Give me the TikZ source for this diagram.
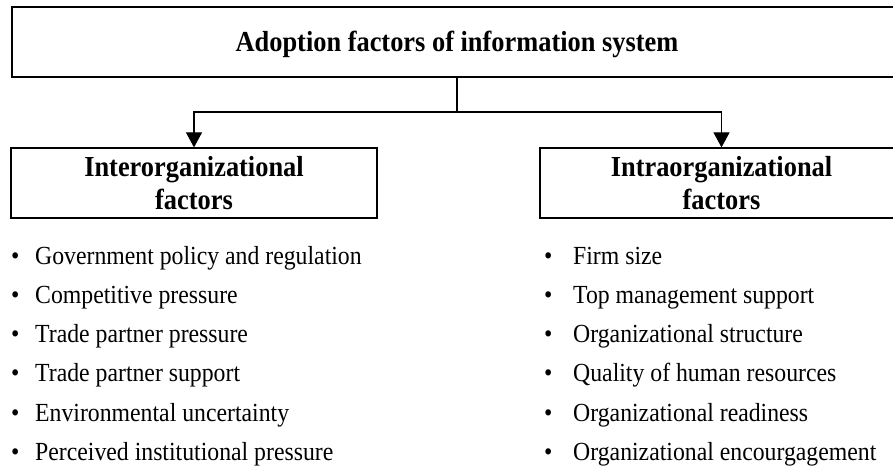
\documentclass[tikz,border=0pt]{standalone}
\usepackage{fontspec}
\setmainfont{Liberation Serif}[FakeStretch=0.91]
\usetikzlibrary{arrows.meta}
\tikzset{
  box/.style={draw=black, line width=1.2pt, rectangle, inner sep=0pt, align=center,
              font=\bfseries\fontsize{29}{32.5}\selectfont},
  conn/.style={draw=black, line width=1.1pt},
  arr/.style={conn, -{Triangle[width=16pt,length=15pt]}},
  item/.style={anchor=base west, inner sep=0pt, font=\fontsize{26.1}{30}\selectfont}
}
\begin{document}
\begin{tikzpicture}[x=1pt,y=-1pt]
\useasboundingbox (0,0) rectangle (893,468);
\node[box, minimum width=890pt, minimum height=70pt, text height=20pt, text depth=0pt] (top) at (457,42) {Adoption factors of information system};
\node[box, minimum width=366pt, minimum height=70pt] (inter) at (194,183) {Interorganizational\\factors};
\node[box, minimum width=363pt, minimum height=70pt] (intra) at (721.5,183) {Intraorganizational\\factors};
\coordinate (j) at (457,112);
\draw[conn] (top.south) -- (j);
\draw[arr] (j) -| (inter.north);
\draw[arr] (j) -| (intra.north);
\foreach \t [count=\i from 0] in {Government policy and regulation, Competitive pressure, Trade partner pressure, Trade partner support, Environmental uncertainty, Perceived institutional pressure}{
  \node[item] (l\i) at (11,264+39.3*\i) {\makebox[24pt][l]{•}\t};
}
\foreach \t [count=\i from 0] in {Firm size, Top management support, Organizational structure, Quality of human resources, Organizational readiness, Organizational encourgagement}{
  \node[item] (r\i) at (544,264+39.3*\i) {\makebox[29pt][l]{•}\t};
}
\end{tikzpicture}
\end{document}
